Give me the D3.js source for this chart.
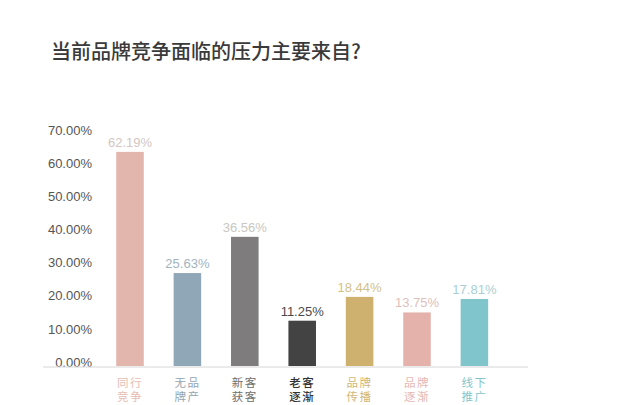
<!DOCTYPE html>
<html><head><meta charset="utf-8">
<script src="https://cdn.jsdelivr.net/npm/d3@7"></script>
<style>body{margin:0;background:#fff;}svg{display:block;}</style>
</head><body>
<svg id="c" width="640" height="405"></svg>
<script>
const title = "当前品牌竞争面临的压力主要来自?";
const categories = ["同行竞争","无品牌产","新客获客","老客逐渐","品牌传播","品牌逐渐","线下推广"];
const labelLines = [["同行","竞争"],["无品","牌产"],["新客","获客"],["老客","逐渐"],["品牌","传播"],["品牌","逐渐"],["线下","推广"]];
const values = [62.19, 25.63, 36.56, 11.25, 18.44, 13.75, 17.81];
const yTicks = [0,10,20,30,40,50,60,70];
const barColors = ["#e2b5ad","#8fa7b6","#7e7c7d","#444343","#cfb16f","#e5b2ab","#80c5cb"];
const valueColors = ["#d3c6c3","#a3b4bf","#c9c7bf","#4a4a4a","#d5bf8a","#dec0ba","#a9cfd3"];
const catColors = ["#e6bdb6","#93a6b2","#6e6e6e","#333333","#d2b677","#e6b8b2","#86c6cb"];

const svg = d3.select("#c");
const font = "'Helvetica Neue', 'Liberation Sans', Arial, sans-serif";
const cjk = "'Noto Sans CJK SC', sans-serif";

svg.append("text").attr("x",51).attr("y",59).text(title)
  .attr("font-family",cjk).attr("font-size",20).attr("font-weight",500).attr("fill","#3a3a3a");

const x = d3.scaleBand().domain(categories).range([101.3,503.1]).paddingInner(0.52).paddingOuter(0.26);
const y = d3.scaleLinear().domain([0,70]).range([362,130]);
const baseY = 366;

// y tick labels
const yAxis = d3.axisLeft(y).tickValues(yTicks).tickFormat(d=>d.toFixed(2)+"%").tickSize(0).tickPadding(0);
const ga = svg.append("g").attr("transform","translate(92,0)").call(yAxis);
ga.select(".domain").remove();
ga.selectAll("text").attr("font-family",font).attr("font-size",13).attr("fill","#555");

// baseline
svg.append("line").attr("x1",43).attr("x2",528).attr("y1",baseY+1).attr("y2",baseY+1)
  .attr("stroke","#d6d6d6").attr("stroke-width",1);

// bars
svg.selectAll("rect.bar").data(values).enter().append("rect")
  .attr("x",(d,i)=>x(categories[i])).attr("width",x.bandwidth())
  .attr("y",d=>y(d)-4).attr("height",d=>baseY-(y(d)-4))
  .attr("fill",(d,i)=>barColors[i]);

// value labels
svg.selectAll("text.val").data(values).enter().append("text")
  .attr("x",(d,i)=>x(categories[i])+x.bandwidth()/2).attr("y",d=>y(d)-9)
  .attr("text-anchor","middle").attr("font-family",font).attr("font-size",13)
  .attr("fill",(d,i)=>valueColors[i]).text(d=>d.toFixed(2)+"%");

// category labels
labelLines.forEach((lines,i)=>{
  const t = svg.append("text").attr("x",x(categories[i])+x.bandwidth()/2).attr("y",386.5)
    .attr("text-anchor","middle").attr("font-family",cjk).attr("font-size",11.5)
    .attr("letter-spacing",1.5).attr("font-weight",i===3?500:400)
    .attr("fill",catColors[i]);
  lines.forEach((s,j)=>{
    t.append("tspan").attr("x",x(categories[i])+x.bandwidth()/2).attr("dy",j===0?0:14).text(s);
  });
});
</script>
</body></html>
